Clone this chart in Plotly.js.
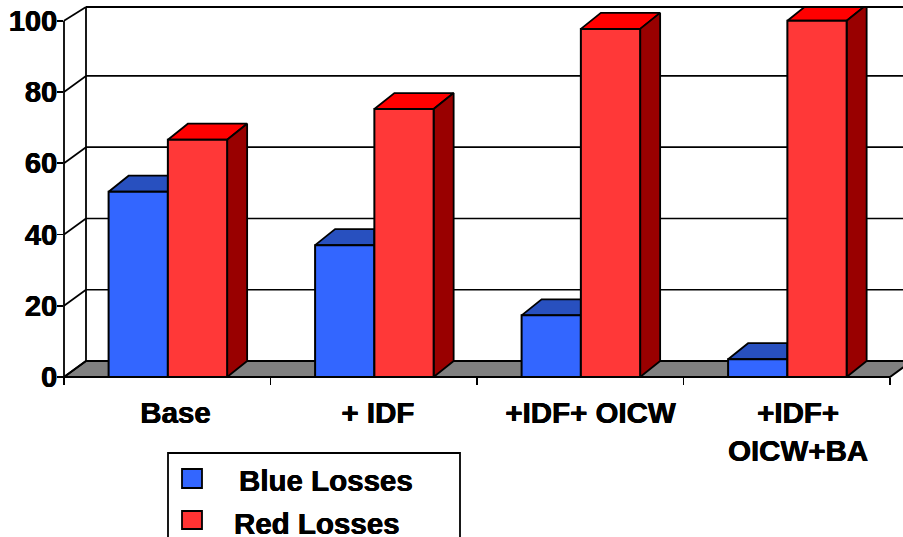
<!DOCTYPE html>
<html><head><meta charset="utf-8">
<script src="https://cdn.plot.ly/plotly-3.0.1.min.js"></script>
<style>html,body{margin:0;padding:0;background:#fff;overflow:hidden}#c{width:903px;height:537px}</style>
</head><body><div id="c"></div>
<script>
var categories = ['Base', '+ IDF', '+IDF+ OICW', '+IDF+<br>OICW+BA'];
var blueLosses = [52, 37, 17.3, 5];
var redLosses = [66.6, 75.2, 97.7, 100];
var seriesNames = ['Blue Losses', 'Red Losses'];
var yTicks = [0, 20, 40, 60, 80, 100];
var boundaries = [-0.5, 0.5, 1.5, 2.5, 3.5];
var labelOffsets = [0.04, 0.02, 0.05, 0.055];

var W = 903, H = 537, L = 64, T = 7, B = 377, R0 = 890;
var pxPerCat = (R0 - L) / 4, pxPerVal = 3.563;
var xRange = [-0.5, -0.5 + (W - L) / pxPerCat];
var yRange = [0, (B - T) / pxPerVal];
var DX = 20 / pxPerCat, DY = 16 / pxPerVal;      // bar depth in data units
var WX = 22, WY = 16;                            // wall depth in px
var gap = 0.426, bw = (1 - gap) / 2, shift = 0.003;
var shadow = '0.35px 0 0 #000, -0.35px 0 0 #000';
var font = {family: '"Liberation Sans", Arial, sans-serif', size: 29.5, weight: 700, color: '#000', shadow: shadow};
var yFont = {family: '"Liberation Sans", Arial, sans-serif', size: 29, weight: 700, color: '#000', shadow: shadow};

function X(p) { return (p - L) / (W - L); }
function Y(p) { return (B - p) / (B - T); }
function yf(v) { return B - v * pxPerVal; }
function line(x0, y0, x1, y1, w, layer) {
  return {type: 'line', xref: 'paper', yref: 'paper', x0: X(x0), y0: Y(y0), x1: X(x1), y1: Y(y1),
    line: {color: '#000', width: w || 1.8}, layer: layer || 'below'};
}
var shapes = [];
// floor
shapes.push({type: 'path', xref: 'paper', yref: 'paper', layer: 'below', fillcolor: '#808080',
  path: 'M' + X(L) + ',' + Y(B) + 'L' + X(L + WX) + ',' + Y(B - WY) + 'L' + X(R0 + WX) + ',' + Y(B - WY) + 'L' + X(R0) + ',' + Y(B) + 'Z',
  line: {color: '#000', width: 2}});
// back wall, gridlines, side wall
yTicks.forEach(function (v) {
  var yb = v === 100 ? T : yf(v) - WY;
  if (v > 0 && v < 100) shapes.push(line(L + WX, yb, W + 5, yb, 1.7));
  shapes.push(line(L, yf(v), L + WX, yb, 1.7));
});
shapes.push(line(L + WX, T, L + WX, B - WY, 1.8));
shapes.push(line(L, yf(100), L, B + 1, 1.8));
shapes.push(line(L + WX, T, W + 5, T, 2.2, 'above'));

// legend
var legendBox = {type: 'rect', xref: 'paper', yref: 'paper', layer: 'below', x0: X(168), x1: X(460), y0: Y(560), y1: Y(453),
  line: {color: '#000', width: 1.8}, fillcolor: '#fff'};
shapes.push(legendBox);
function swatch(y0, y1, c) {
  shapes.push({type: 'rect', xref: 'paper', yref: 'paper', layer: 'below', x0: X(182), x1: X(202), y0: Y(y1), y1: Y(y0),
    line: {color: '#000', width: 1.8}, fillcolor: c});
}
swatch(469, 488, '#3366FF');
swatch(511, 529, '#FF3333');
function legendText(t, x, y) {
  return {text: t, xref: 'paper', yref: 'paper', x: X(x), y: Y(y), xanchor: 'center', yanchor: 'middle', showarrow: false, font: font};
}
var annotations = [legendText(seriesNames[0], 325.5, 480), legendText(seriesNames[1], 317, 523)];

// depth faces, drawn from the values on the main axes; fronts on the overlay axes cover them
var traces = [];
function face(xs, ys, c) {
  traces.push({type: 'scatter', mode: 'lines', x: xs, y: ys, fill: 'toself', fillcolor: c,
    line: {color: '#000', width: 1.8}, hoverinfo: 'skip', showlegend: false, xaxis: 'x', yaxis: 'y'});
}
categories.forEach(function (c, i) {
  var cx = i + shift, b = blueLosses[i], r = redLosses[i];
  face([cx - bw, cx - bw + DX, cx, cx, cx - bw], [b, b + DY, b + DY, b, b], '#2850BF');
  face([cx, cx + DX, cx + bw + DX, cx + bw, cx], [r, r + DY, r + DY, r, r], '#FF0000');
  face([cx + bw, cx + bw + DX, cx + bw + DX, cx + bw, cx + bw], [r, r + DY, DY, 0, r], '#990000');
});
var idx = categories.map(function (c, i) { return i + shift; });
traces.push({type: 'bar', name: seriesNames[0], x: idx, y: blueLosses, xaxis: 'x2', yaxis: 'y', cliponaxis: false,
  marker: {color: '#3366FF', line: {color: '#000', width: 2}}});
traces.push({type: 'bar', name: seriesNames[1], x: idx, y: redLosses, xaxis: 'x2', yaxis: 'y', cliponaxis: false,
  marker: {color: '#FF3838', line: {color: '#000', width: 2}}});

var layout = {
  width: W, height: H, margin: {l: L, r: 0, t: T, b: H - B}, paper_bgcolor: '#fff', plot_bgcolor: 'rgba(0,0,0,0)',
  showlegend: false, barmode: 'group', bargap: gap, bargroupgap: 0, hovermode: false,
  xaxis: {type: 'linear', range: xRange, tickmode: 'array', tickvals: labelOffsets.map(function (o, i) { return i + o; }), ticktext: categories,
    ticks: '', showgrid: false, zeroline: false, showline: false, tickfont: font, tickangle: 0, ticklabelstandoff: 15},
  xaxis2: {type: 'linear', range: xRange, overlaying: 'x', anchor: 'y', side: 'bottom', tickmode: 'array', tickvals: boundaries,
    ticktext: boundaries.map(function () { return ''; }), ticks: 'outside', ticklen: 7, tickwidth: 1.8, tickcolor: '#000',
    showgrid: false, zeroline: false, showline: false},
  yaxis: {range: yRange, tickmode: 'array', tickvals: yTicks, ticktext: yTicks.map(String), ticks: 'outside', ticklen: 6, tickwidth: 1.8,
    tickcolor: '#000', showgrid: false, zeroline: false, showline: false, tickfont: yFont, ticklabelstandoff: -6},
  shapes: shapes, annotations: annotations
};
Plotly.newPlot('c', traces, layout, {displayModeBar: false, staticPlot: true});
</script></body></html>
